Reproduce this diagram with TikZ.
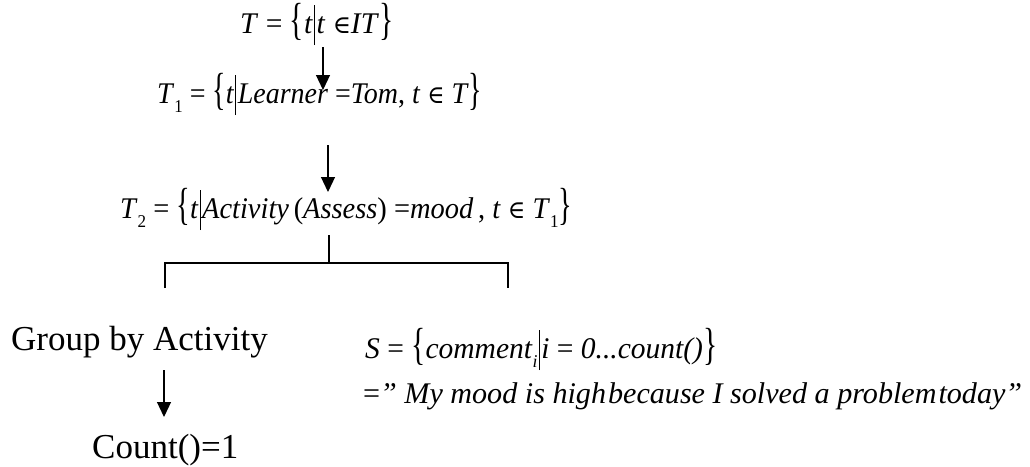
\documentclass[tikz,border=0pt]{standalone}
\usepackage{graphicx}
\usepackage{fontspec}
\setmainfont{Liberation Serif}
\newfontfamily\symf{DejaVu Serif}
\usetikzlibrary{arrows.meta}
\newcommand\fm{\fontsize{30}{33}\selectfont}
\newcommand\tx{\fontsize{35}{40}\selectfont}
\newcommand\lbr{\raisebox{-0.06em}{\scalebox{1}[1.5]{\{}}}
\newcommand\rbr{\raisebox{-0.06em}{\scalebox{1}[1.5]{\}}}}
\newcommand\vbar{\hspace{1pt}\rule[-0.4em]{0.8pt}{1.34em}\hspace{2pt}}
\newcommand\isin{{\symf\fontsize{25}{28}\selectfont ∈}}
\newcommand\sbs[1]{\raisebox{-0.3em}{\fontsize{18}{20}\selectfont #1}}
\newcommand\fit[2]{\resizebox{#1pt}{\height}{#2}}
\begin{document}
\begin{tikzpicture}[x=1pt,y=-1pt,
  formula/.style={inner sep=0pt,anchor=base west,font=\fm},
  label/.style={inner sep=0pt,anchor=base west,font=\tx},
  arr/.style={line width=1.2pt,-{Triangle[length=15pt,width=14pt]}},
  ln/.style={line width=1.1pt}]
\useasboundingbox (0,0) rectangle (1030,466);
\node[formula] (f0) at (240,33) {\fit{153}{\textit{T} = \lbr\textit{t}\vbar\textit{t} \isin\textit{IT}\rbr}};
\node[formula] (f1) at (157,103) {\fit{325}{\textit{T}\sbs{1} = \lbr\textit{t}\vbar\textit{Learner} =\textit{Tom}, \textit{t} \isin\ \textit{T}\rbr}};
\node[formula] (f2) at (120,218) {\fit{452}{\textit{T}\sbs{2} = \lbr\textit{t}\vbar\textit{Activity}\,(\textit{Assess}) =\textit{mood}\,, \textit{t} \isin\ \textit{T}\sbs{1}\rbr}};
\node[label] (grp) at (11,350) {Group by Activity};
\node[label] (cnt) at (92,458) {Count()=1};
\node[formula] (s1) at (365,358) {\fit{352}{\textit{S} = \lbr\textit{comment}\sbs{\textit{i}}\vbar\textit{i} = \textit{0...count()}\rbr}};
\node[formula] (s2) at (363,403) {\fit{659}{=\textit{\symbol{34} My mood is high\hspace{2pt}because I solved a problem\hspace{2pt}today\symbol{34}}}};
% arrows
\coordinate (a1s) at (323,47);
\coordinate (a1e) at (323,90);
\coordinate (a2s) at (328,145);
\coordinate (a2e) at (328,192);
\coordinate (a3s) at (164,370);
\coordinate (a3e) at (164,417);
\draw[arr] (a1s) -- (a1e);
\draw[arr] (a2s) -- (a2e);
\draw[arr] (a3s) -- (a3e);
% tree
\coordinate (stemT) at (329,235);
\coordinate (stemB) at (329,263);
\coordinate (hl) at (165,263);
\coordinate (hr) at (508,263);
\coordinate (dl) at (165,288);
\coordinate (dr) at (508,288);
\draw[ln] (stemT) -- (stemB);
\draw[ln] (dl) -- (hl) -- (hr) -- (dr);
\end{tikzpicture}
\end{document}
